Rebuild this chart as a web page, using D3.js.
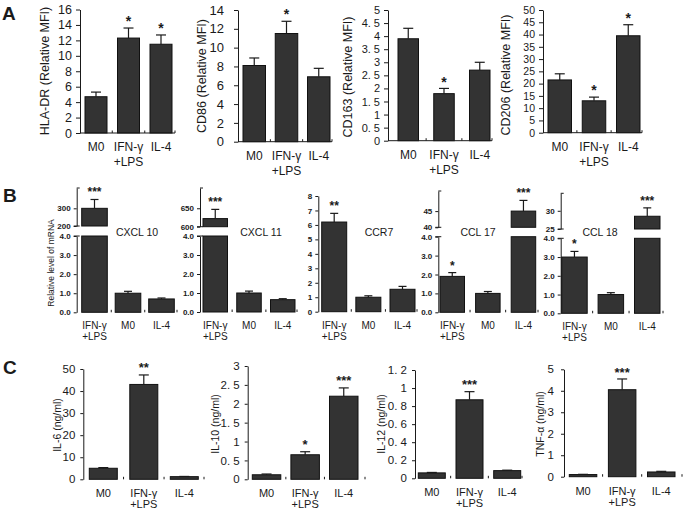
<!DOCTYPE html>
<html><head><meta charset="utf-8">
<script src="https://cdn.jsdelivr.net/npm/d3@7"></script>
<style>
body{margin:0;background:#fff}
svg{display:block}
text{font-family:"Liberation Sans",Arial,sans-serif;fill:#1a1a1a}
</style>
</head><body>
<svg id="c" width="683" height="510"></svg>
<script>
// ---------- DATA ----------
const catsAC = ["M0", "IFN-γ\n+LPS", "IL-4"];
const catsB  = ["IFN-γ\n+LPS", "M0", "IL-4"];

// Panel A (relative MFI)
const hladrMean = [4.7, 12.3, 11.5], hladrErr = [0.6, 1.3, 1.2], hladrSig = ["", "*", "*"];
const cd86Mean  = [8.1, 11.5, 6.9],  cd86Err  = [0.8, 1.3, 0.9], cd86Sig  = ["", "*", ""];
const cd163Mean = [3.9, 1.8, 2.7],   cd163Err = [0.4, 0.2, 0.3], cd163Sig = ["", "*", ""];
const cd206Mean = [21.5, 13, 39.5],  cd206Err = [2.5, 1.5, 4.5], cd206Sig = ["", "*", "*"];
const hladrTicks = [0,2,4,6,8,10,12,14,16];
const cd86Ticks  = [0,2,4,6,8,10,12,14];
const cd163Ticks = [0,0.5,1,1.5,2,2.5,3,3.5,4,4.5,5];
const cd163TickLabels = ["0","0. 5","1","1. 5","2","2. 5","3","3. 5","4","4. 5","5"];
const cd206Ticks = [0,5,10,15,20,25,30,35,40,45,50];

// Panel B (relative mRNA), order IFN-γ+LPS, M0, IL-4
const cxcl10Mean = [300, 1.0, 0.7],  cxcl10Err = [50, 0.1, 0.05], cxcl10Sig = ["***", "", ""];
const cxcl11Mean = [622, 1.0, 0.65], cxcl11Err = [25, 0.1, 0.05], cxcl11Sig = ["***", "", ""];
const ccr7Mean   = [6.2, 1.0, 1.55], ccr7Err   = [0.6, 0.1, 0.2], ccr7Sig   = ["**", "", ""];
const ccl17Mean  = [1.9, 1.0, 45],   ccl17Err  = [0.2, 0.1, 3.3], ccl17Sig  = ["*", "", "***"];
const ccl18Mean  = [3.0, 1.0, 28.5], ccl18Err  = [0.3, 0.1, 2.3], ccl18Sig  = ["*", "", "***"];
const bLowerTicks = [0,1,2,3,4];
const ccr7Ticks = [0,1,2,3,4,5,6,7,8];
const cxcl10UpperTicks = [200, 300];
const cxcl11UpperTicks = [600, 650];
const ccl17UpperTicks = [40, 45];
const ccl18UpperTicks = [25, 30];

// Panel C (ng/ml)
const il6Mean  = [5, 43, 1.2],       il6Err  = [0.3, 4.3, 0.1],     il6Sig  = ["", "**", ""];
const il10Mean = [0.12, 0.65, 2.2],  il10Err = [0.02, 0.08, 0.22],  il10Sig = ["", "*", "***"];
const il12Mean = [0.06, 0.87, 0.085],il12Err = [0.005, 0.09, 0.005],il12Sig = ["", "***", ""];
const tnfMean  = [0.1, 4.05, 0.22],  tnfErr  = [0.01, 0.5, 0.03],   tnfSig  = ["", "***", ""];
const il6Ticks  = [0,10,20,30,40,50];
const il10Ticks = [0,0.5,1,1.5,2,2.5,3];
const il10TickLabels = ["0","0. 5","1","1. 5","2","2. 5","3"];
const il12Ticks = [0,0.2,0.4,0.6,0.8,1,1.2];
const il12TickLabels = ["0","0. 2","0. 4","0. 6","0. 8","1","1. 2"];
const tnfTicks  = [0,1,2,3,4,5];

// ---------- DRAWING ----------
const svg = d3.select("#c");
const FILL = "#333333", EDGE = "#111111", INK = "#1a1a1a";

function band(cats, L, R, w) {
  const step = (R - L - w) / (cats.length - 1);
  return d3.scaleBand().domain(cats).range([L, R]).paddingInner(1 - w / step).paddingOuter(0);
}

function styleAxis(sel, fs, fw) {
  sel.select(".domain").attr("stroke", INK).attr("stroke-width", 1);
  sel.selectAll(".tick line").attr("stroke", INK);
  sel.selectAll(".tick text").attr("fill", INK).style("font-size", fs + "px").style("font-weight", fw || "normal")
     .style("font-family", '"Liberation Sans",Arial,sans-serif');
}

function xAxisAndLabels(g, o, x, cats) {
  if (o.xLine) {
    g.append("line").attr("x1", o.ax).attr("x2", o.axEnd).attr("y1", o.y0).attr("y2", o.y0)
     .attr("stroke", INK).attr("stroke-width", 1);
  }
  const st = x.step(), bw = x.bandwidth();
  const tx = cats.slice(0, -1).map(c => x(c) + bw + (st - bw) / 2).concat([o.axEnd]);
  g.selectAll(".xt").data(tx).join("line").attr("x1", d => d).attr("x2", d => d)
   .attr("y1", o.y0).attr("y2", o.y0 - 2.5).attr("stroke", INK);
  cats.forEach(c => {
    const lines = c.split("\n");
    lines.forEach((t, i) => {
      g.append("text").attr("x", x(c) + bw / 2).attr("y", o.y0 + o.xl1 + i * o.xlGap)
       .attr("text-anchor", "middle").style("font-size", o.xfs + "px").text(t);
    });
  });
}

function errBars(g, x, cats, meanArr, errArr, yOf, sig, o) {
  const bw = x.bandwidth();
  cats.forEach((c, i) => {
    const cx = x(c) + bw / 2;
    const yT = yOf(meanArr[i]), yE = yOf(meanArr[i] + errArr[i]);
    g.append("line").attr("x1", cx).attr("x2", cx).attr("y1", yT).attr("y2", yE).attr("stroke", INK).attr("stroke-width", 1.2);
    g.append("line").attr("x1", cx - o.cap).attr("x2", cx + o.cap).attr("y1", yE).attr("y2", yE).attr("stroke", INK).attr("stroke-width", 1.2);
    if (sig[i]) {
      g.append("text").attr("x", cx).attr("y", yE - 10 + o.sfs * 0.58)
       .attr("text-anchor", "middle").style("font-size", o.sfs + "px").style("font-weight", "bold").text(sig[i]);
    }
  });
}

function ylabel(g, text, x, y, fs) {
  g.append("text").attr("transform", `translate(${x},${y}) rotate(-90)`).attr("text-anchor", "middle")
   .attr("dy", "0.35em").style("font-size", fs + "px").text(text);
}

// simple (unbroken) panel
function simplePanel(o, cats, mean, err, sig, ticks, tickLabels) {
  const g = svg.append("g");
  const x = band(cats, o.L, o.R, o.w);
  const y = d3.scaleLinear().domain([0, o.ymax]).range([o.y0, o.yTop]);
  const ax = g.append("g").attr("transform", `translate(${o.ax},0)`)
    .call(d3.axisLeft(y).tickValues(ticks).tickFormat((d, i) => tickLabels ? tickLabels[i] : d3.format("~g")(d))
      .tickSizeInner(o.ts).tickSizeOuter(0).tickPadding(o.tp));
  styleAxis(ax, o.tfs, o.tfw);
  g.selectAll(".bar").data(cats).join("rect")
    .attr("x", c => x(c)).attr("width", x.bandwidth())
    .attr("y", (c, i) => y(mean[i])).attr("height", (c, i) => o.y0 - y(mean[i]))
    .attr("fill", FILL).attr("stroke", EDGE).attr("stroke-width", 1);
  xAxisAndLabels(g, o, x, cats);
  errBars(g, x, cats, mean, err, y, sig, o);
  if (o.ylab) ylabel(g, o.ylab, o.ylx, o.yly, o.ylfs);
  if (o.inLabel) g.append("text").attr("x", o.inX).attr("y", o.inY).attr("text-anchor", "middle").style("font-size", o.infs + "px").text(o.inLabel);
  return g;
}

// broken-axis panel (panel B)
function brokenPanel(o, cats, mean, err, sig, lowTicks, upTicks) {
  const g = svg.append("g");
  const x = band(cats, o.L, o.R, o.w);
  const yL = d3.scaleLinear().domain([0, 4]).range([o.y0, o.y4]);
  const yU = d3.scaleLinear().domain([upTicks[0], o.umax]).range([o.uMinY, o.uTopY]);
  const axL = g.append("g").attr("transform", `translate(${o.ax},0)`)
    .call(d3.axisLeft(yL).tickValues(lowTicks).tickSizeInner(o.ts).tickSizeOuter(0).tickPadding(o.tp));
  styleAxis(axL, o.tfs, o.tfw);
  const axU = g.append("g").attr("transform", `translate(${o.ax},0)`)
    .call(d3.axisLeft(yU).tickValues(upTicks).tickSizeInner(o.ts).tickSizeOuter(0).tickPadding(o.tp));
  styleAxis(axU, o.tfs, o.tfw);
  // break marks: short right ticks
  [o.y4, o.uMinY].forEach(yy => g.append("line").attr("x1", o.ax - o.ts).attr("x2", o.ax + 3).attr("y1", yy).attr("y2", yy).attr("stroke", INK));
  g.append("line").attr("x1", o.ax).attr("x2", o.ax + 3).attr("y1", o.uTopY).attr("y2", o.uTopY).attr("stroke", INK);
  const bw = x.bandwidth();
  cats.forEach((c, i) => {
    const v = mean[i];
    if (v > 4) {
      g.append("rect").attr("x", x(c)).attr("width", bw).attr("y", o.y4).attr("height", o.y0 - o.y4)
       .attr("fill", FILL).attr("stroke", EDGE);
      g.append("rect").attr("x", x(c)).attr("width", bw).attr("y", yU(v)).attr("height", o.uMinY - yU(v))
       .attr("fill", FILL).attr("stroke", EDGE);
    } else {
      g.append("rect").attr("x", x(c)).attr("width", bw).attr("y", yL(v)).attr("height", o.y0 - yL(v))
       .attr("fill", FILL).attr("stroke", EDGE);
    }
  });
  xAxisAndLabels(g, o, x, cats);
  cats.forEach((c, i) => {
    const cx = x(c) + bw / 2;
    const sc = mean[i] > 4 ? yU : yL;
    const yT = sc(mean[i]), yE = sc(mean[i] + err[i]);
    g.append("line").attr("x1", cx).attr("x2", cx).attr("y1", yT).attr("y2", yE).attr("stroke", INK).attr("stroke-width", 1.2);
    g.append("line").attr("x1", cx - o.cap).attr("x2", cx + o.cap).attr("y1", yE).attr("y2", yE).attr("stroke", INK).attr("stroke-width", 1.2);
    if (sig[i]) g.append("text").attr("x", cx).attr("y", yE - 10 + o.sfs * 0.58).attr("text-anchor", "middle")
       .style("font-size", o.sfs + "px").style("font-weight", "bold").text(sig[i]);
  });
  if (o.ylab) ylabel(g, o.ylab, o.ylx, o.yly, o.ylfs);
  g.append("text").attr("x", o.inX).attr("y", o.inY).attr("text-anchor", "middle").style("font-size", o.infs + "px").text(o.inLabel);
}

// ---------- LAYOUT (positions only) ----------
const baseA = {xLine: true, ts: 4, tp: 4, tfs: 12.5, xfs: 12, xl1: 18, xlGap: 15, cap: 5, sfs: 14, ylfs: 12.5};
simplePanel({...baseA, ax: 80, axEnd: 175, y0: 133, yTop: 9.5, ymax: 16, L: 85, R: 172, w: 22,
  ylab: "HLA-DR (Relative MFI)", ylx: 45, yly: 71}, catsAC, hladrMean, hladrErr, hladrSig, hladrTicks);
simplePanel({...baseA, ax: 238, axEnd: 332, y0: 141.7, yTop: 10, ymax: 14, L: 243, R: 330, w: 22.5, tp: 10, tfs: 13,
  ylab: "CD86 (Relative MFI)", ylx: 202, yly: 76}, catsAC, cd86Mean, cd86Err, cd86Sig, cd86Ticks);
simplePanel({...baseA, ax: 388, axEnd: 492, y0: 140.7, yTop: 10, ymax: 5, L: 398, R: 490, w: 20.5, tfs: 11,
  ylab: "CD163 (Relative MFI)", ylx: 348, yly: 77}, catsAC, cd163Mean, cd163Err, cd163Sig, cd163Ticks, cd163TickLabels);
simplePanel({...baseA, ax: 543, axEnd: 642, y0: 132.7, yTop: 10, ymax: 50, L: 548, R: 640, w: 23.5, tfs: 10.5,
  ylab: "CD206 (Relative MFI)", ylx: 506, yly: 75}, catsAC, cd206Mean, cd206Err, cd206Sig, cd206Ticks);

const baseB = {xLine: false, ts: 3, tp: 3, tfs: 8, tfw: "bold", xfs: 10, xl1: 17, xlGap: 11, cap: 4, sfs: 12, infs: 10.5, ylfs: 8.5, inY: 236};
brokenPanel({...baseB, ax: 76.7, axEnd: 177, y0: 312.3, y4: 236, uMinY: 226, uTopY: 188, umax: 415,
  L: 81.7, R: 174.3, w: 25.6, ylab: "Relative level of mRNA", ylx: 51, yly: 263, inLabel: "CXCL 10", inX: 137},
  catsB, cxcl10Mean, cxcl10Err, cxcl10Sig, bLowerTicks, cxcl10UpperTicks);
brokenPanel({...baseB, ax: 200, axEnd: 297, y0: 312, y4: 236, uMinY: 226.7, uTopY: 188, umax: 705,
  L: 203, R: 295, w: 24.5, inLabel: "CXCL 11", inX: 261},
  catsB, cxcl11Mean, cxcl11Err, cxcl11Sig, bLowerTicks, cxcl11UpperTicks);
simplePanel({...baseB, ax: 318.3, axEnd: 417, y0: 311.7, yTop: 196, ymax: 8, L: 321.7, R: 415, w: 25,
  inLabel: "CCR7", inX: 379, inY: 236}, catsB, ccr7Mean, ccr7Err, ccr7Sig, ccr7Ticks);
brokenPanel({...baseB, ax: 438.3, axEnd: 538, y0: 312.3, y4: 236.7, uMinY: 227.3, uTopY: 191, umax: 51.2,
  L: 440, R: 535.7, w: 24.5, inLabel: "CCL 17", inX: 478},
  catsB, ccl17Mean, ccl17Err, ccl17Sig, bLowerTicks, ccl17UpperTicks);
brokenPanel({...baseB, ax: 560.7, axEnd: 663, y0: 313.3, y4: 238.3, uMinY: 229, uTopY: 193.3, umax: 34.8,
  L: 561.7, R: 660, w: 25.5, inLabel: "CCL 18", inX: 600},
  catsB, ccl18Mean, ccl18Err, ccl18Sig, bLowerTicks, ccl18UpperTicks);

const baseC = {xLine: false, ts: 3, tp: 5, tfs: 11.5, xfs: 11, xl1: 18, xlGap: 11, cap: 5, sfs: 13, ylfs: 10.5};
simplePanel({...baseC, ax: 83.3, axEnd: 204, y0: 479.3, yTop: 369, ymax: 50, L: 89.3, R: 198.3, w: 28,
  ylab: "IL-6 (ng/ml)", ylx: 57.5, yly: 425}, catsAC, il6Mean, il6Err, il6Sig, il6Ticks);
simplePanel({...baseC, ax: 247.7, axEnd: 365, y0: 479.3, yTop: 366, ymax: 3, L: 252.3, R: 358, w: 28.5,
  ylab: "IL-10 (ng/ml)", ylx: 215, yly: 424}, catsAC, il10Mean, il10Err, il10Sig, il10Ticks, il10TickLabels);
simplePanel({...baseC, ax: 415, axEnd: 522, y0: 478.3, yTop: 370, ymax: 1.2, L: 418.3, R: 520.7, w: 27,
  ylab: "IL-12 (ng/ml)", ylx: 381.5, yly: 424}, catsAC, il12Mean, il12Err, il12Sig, il12Ticks, il12TickLabels);
simplePanel({...baseC, ax: 564, axEnd: 682, y0: 476.7, yTop: 369.3, ymax: 5, L: 569.3, R: 675, w: 27.5, tp: 7,
  ylab: "TNF-α (ng/ml)", ylx: 540.5, yly: 424}, catsAC, tnfMean, tnfErr, tnfSig, tnfTicks);

// panel letters
[["A", 2, 20], ["B", 3, 202], ["C", 3, 374]].forEach(([t, x, y]) =>
  svg.append("text").attr("x", x).attr("y", y).style("font-size", "19px").style("font-weight", "bold").text(t));
</script>
</body></html>
